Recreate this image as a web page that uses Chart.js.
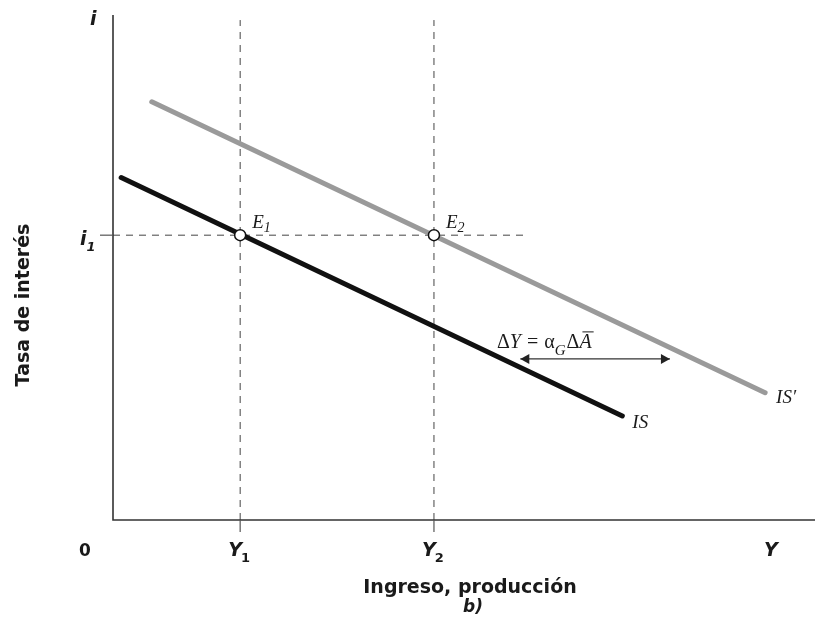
<!DOCTYPE html>
<html>
<head>
<meta charset="utf-8">
<script src="https://cdn.jsdelivr.net/npm/chart.js@4.4.0/dist/chart.umd.min.js"></script>
<style>
  body { margin: 0; background: #fff; }
  #wrap { width: 815px; height: 624px; position: relative; }
</style>
</head>
<body>
<div id="wrap"><canvas id="isChart"></canvas></div>
<script>
let isX = [1.2, 74.9];
let isY = [67.8, 20.6];
let isShiftX = [5.7, 95.9];
let isShiftY = [82.8, 25.2];

// equilibrium levels
let incomeLevels = [18.7, 47.2];   // Y1, Y2
let incomeLabels = ['Y', 'Y'];
let incomeSubs = ['1', '2'];
let rateLevel = 56.4;              // i1
let eqLabels = ['E', 'E'];
let eqSubs = ['1', '2'];

// shift arrow
let arrowX = [59.9, 81.9];
let arrowY = 31.9;

let boldFont = '"DejaVu Sans", sans-serif';
let serifFont = '"Liberation Serif", "DejaVu Serif", serif';

function pts(xs, ys) {
    let out = [];
    for (let i = 0; i < xs.length; i++) out.push({x: xs[i], y: ys[i]});
    return out;
}

let dashedV = [];
incomeLevels.forEach(function (v) {
    dashedV.push({
        type: 'line', data: [{x: v, y: 0}, {x: v, y: 99}],
        borderColor: '#444', borderWidth: 1, borderDash: [7, 6],
        pointRadius: 0, order: 5
    });
});

let datasets = dashedV.concat([
    {
        type: 'line', data: [{x: 0, y: rateLevel}, {x: 60.9, y: rateLevel}],
        borderColor: '#444', borderWidth: 1, borderDash: [7, 6],
        pointRadius: 0, order: 5
    },
    {
        label: "IS'", type: 'line', data: pts(isShiftX, isShiftY),
        borderColor: '#9a9a9a', borderWidth: 5, borderCapStyle: 'round',
        pointRadius: 0, order: 3
    },
    {
        label: 'IS', type: 'line', data: pts(isX, isY),
        borderColor: '#111', borderWidth: 5, borderCapStyle: 'round',
        pointRadius: 0, order: 3
    },
    {
        type: 'line', data: [{x: arrowX[0], y: arrowY}, {x: arrowX[1], y: arrowY}],
        borderColor: '#333', borderWidth: 1.2, pointRadius: 0, order: 4
    },
    {
        label: 'E', type: 'scatter',
        data: incomeLevels.map(function (v) { return {x: v, y: rateLevel}; }),
        pointRadius: 5.5, pointBackgroundColor: '#fff', pointBorderColor: '#111',
        pointBorderWidth: 1.5, order: 1
    }
]);

function subText(ctx, main, sub, x, y, font, subFont, dx, dy) {
    ctx.font = font;
    ctx.textAlign = 'left';
    let w = ctx.measureText(main).width;
    ctx.fillText(main, x, y);
    ctx.font = subFont;
    ctx.fillText(sub, x + w + dx, y + dy);
}

let decor = {
    id: 'decor',
    afterDatasetsDraw: function (chart) {
        let ctx = chart.ctx;
        let xs = chart.scales.x, ys = chart.scales.y;
        let x0 = xs.getPixelForValue(0), y0 = ys.getPixelForValue(0);
        let yTop = ys.getPixelForValue(100);
        ctx.save();
        // axes
        ctx.strokeStyle = '#333';
        ctx.lineWidth = 1.6;
        ctx.beginPath();
        ctx.moveTo(x0, yTop);
        ctx.lineTo(x0, y0);
        ctx.lineTo(chart.width, y0);
        ctx.stroke();
        // ticks
        ctx.strokeStyle = '#555';
        ctx.lineWidth = 1.2;
        incomeLevels.forEach(function (v) {
            let px = xs.getPixelForValue(v);
            ctx.beginPath(); ctx.moveTo(px, y0); ctx.lineTo(px, y0 + 12); ctx.stroke();
        });
        let iy = ys.getPixelForValue(rateLevel);
        ctx.beginPath(); ctx.moveTo(x0 - 13, iy); ctx.lineTo(x0, iy); ctx.stroke();

        // arrowheads
        let ay = ys.getPixelForValue(arrowY);
        let ax1 = xs.getPixelForValue(arrowX[0]), ax2 = xs.getPixelForValue(arrowX[1]);
        ctx.fillStyle = '#222';
        ctx.beginPath();
        ctx.moveTo(ax1, ay); ctx.lineTo(ax1 + 9, ay - 5); ctx.lineTo(ax1 + 9, ay + 5);
        ctx.closePath(); ctx.fill();
        ctx.beginPath();
        ctx.moveTo(ax2, ay); ctx.lineTo(ax2 - 9, ay - 5); ctx.lineTo(ax2 - 9, ay + 5);
        ctx.closePath(); ctx.fill();

        // bold axis labels
        ctx.fillStyle = '#1a1a1a';
        ctx.textBaseline = 'alphabetic';
        let tickY = y0 + 36;
        ctx.font = 'bold 17px ' + boldFont;
        ctx.textAlign = 'center';
        ctx.fillText('0', 85, tickY);
        incomeLevels.forEach(function (v, k) {
            let px = xs.getPixelForValue(v);
            subText(ctx, incomeLabels[k], incomeSubs[k], px - 12, tickY,
                'italic bold 19px ' + boldFont, 'bold 13px ' + boldFont, -1, 6);
        });
        ctx.font = 'italic bold 19px ' + boldFont;
        ctx.textAlign = 'center';
        ctx.fillText('Y', 771, tickY);
        subText(ctx, 'i', '1', 80, iy + 10, 'italic bold 19px ' + boldFont,
            'italic bold 13px ' + boldFont, 0, 6);
        ctx.font = 'italic bold 19px ' + boldFont;
        ctx.textAlign = 'left';
        ctx.fillText('i', 90, 25);

        ctx.font = 'bold 19px ' + boldFont;
        ctx.textAlign = 'center';
        ctx.fillText('Ingreso, producción', 470, 593);
        ctx.font = 'italic bold 17px ' + boldFont;
        ctx.fillText('b)', 473, 612);
        ctx.save();
        ctx.translate(29, 305);
        ctx.rotate(-Math.PI / 2);
        ctx.font = 'bold 19px ' + boldFont;
        ctx.fillText('Tasa de interés', 0, 0);
        ctx.restore();

        // serif italic labels
        incomeLevels.forEach(function (v, k) {
            let px = xs.getPixelForValue(v);
            subText(ctx, eqLabels[k], eqSubs[k], px + 12, iy - 7,
                'italic 19px ' + serifFont, 'italic 14px ' + serifFont, 0, 4);
        });
        ctx.font = 'italic 19px ' + serifFont;
        ctx.textAlign = 'left';
        ctx.fillText('IS', xs.getPixelForValue(isX[1]) + 10, ys.getPixelForValue(isY[1]) + 12);
        ctx.fillText('IS\u2032', xs.getPixelForValue(isShiftX[1]) + 11, ys.getPixelForValue(isShiftY[1]) + 10);

        // ΔY = α_G ΔĀ
        let lx = 497, ly = ay - 11;
        ctx.font = '20px ' + serifFont;
        ctx.fillText('\u0394', lx, ly);
        let w = ctx.measureText('\u0394').width;
        ctx.font = 'italic 20px ' + serifFont;
        ctx.fillText('Y', lx + w, ly);
        let cx = lx + w + ctx.measureText('Y').width + 6;
        ctx.font = '20px ' + serifFont;
        ctx.fillText('=', cx, ly);
        cx += ctx.measureText('=').width + 6;
        ctx.fillText('\u03b1', cx, ly);
        cx += ctx.measureText('\u03b1').width;
        ctx.font = 'italic 15px ' + serifFont;
        ctx.fillText('G', cx, ly + 7);
        cx += ctx.measureText('G').width + 1;
        ctx.font = '20px ' + serifFont;
        ctx.fillText('\u0394', cx, ly);
        cx += ctx.measureText('\u0394').width;
        ctx.font = 'italic 20px ' + serifFont;
        ctx.fillText('A', cx, ly);
        let aw = ctx.measureText('A').width;
        ctx.strokeStyle = '#1a1a1a';
        ctx.lineWidth = 1;
        ctx.beginPath();
        ctx.moveTo(cx + 3, ly - 16); ctx.lineTo(cx + aw + 2, ly - 16); ctx.stroke();
        ctx.restore();
    }
};

let myChart = new Chart(document.getElementById('isChart').getContext('2d'), {
    type: 'scatter',
    data: {datasets: datasets},
    options: {
        responsive: true,
        maintainAspectRatio: false,
        animation: false,
        layout: {padding: {left: 113, top: 15, right: 22, bottom: 104}},
        scales: {
            x: {type: 'linear', min: 0, max: 100, display: false},
            y: {type: 'linear', min: 0, max: 100, display: false}
        },
        plugins: {
            legend: {display: false},
            tooltip: {enabled: false}
        }
    },
    plugins: [decor]
});
</script>
</body>
</html>
